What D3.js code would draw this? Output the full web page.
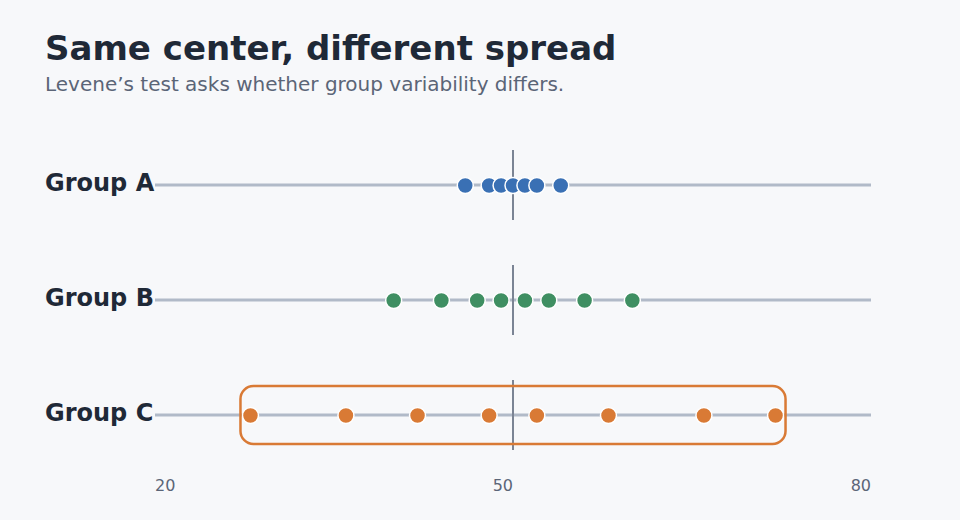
<!DOCTYPE html>
<html>
<head>
<meta charset="utf-8">
<script src="https://cdn.jsdelivr.net/npm/d3@7"></script>
<style>
  html, body { margin: 0; padding: 0; background: #f7f8fa; }
  svg { display: block; font-family: "DejaVu Sans", sans-serif; }
</style>
</head>
<body>
<div id="vis"></div>
<script>
// data
var groups = ["Group A", "Group B", "Group C"];
var groupA = [46, 48, 49, 50, 51, 52, 54];
var groupB = [40, 44, 47, 49, 51, 53, 56, 60];
var groupC = [28, 36, 42, 48, 52, 58, 66, 72];
var tickValues = [20, 50, 80];
var centerValue = 50;
var highlightGroup = "Group C";

var colors = { "Group A": "#3a70b4", "Group B": "#3f8f62", "Group C": "#d97a35" };

var width = 960, height = 520;

var svg = d3.select("#vis").append("svg")
    .attr("width", width)
    .attr("height", height);

svg.append("rect")
    .attr("width", width)
    .attr("height", height)
    .attr("fill", "#f7f8fa");

svg.append("text")
    .attr("x", 45)
    .attr("y", 60)
    .attr("font-size", 34)
    .attr("font-weight", "bold")
    .attr("fill", "#1f2937")
    .text("Same center, different spread");

svg.append("text")
    .attr("x", 45)
    .attr("y", 91)
    .attr("font-size", 20)
    .attr("fill", "#5b6577")
    .text("Levene\u2019s test asks whether group variability differs.");

var x = d3.scaleLinear()
    .domain([20, 80])
    .range([155, 871]);

var y = d3.scalePoint()
    .domain(groups)
    .range([185, 415]);

var values = { "Group A": groupA, "Group B": groupB, "Group C": groupC };

var rows = svg.selectAll(".row")
    .data(groups)
    .enter().append("g")
    .attr("class", "row")
    .attr("transform", function(d) { return "translate(0," + y(d) + ")"; });

rows.append("line")
    .attr("x1", x(20))
    .attr("x2", x(80))
    .attr("stroke", "#b1bac8")
    .attr("stroke-width", 3);

rows.append("text")
    .attr("x", 45)
    .attr("y", 6)
    .attr("font-size", 24)
    .attr("font-weight", "bold")
    .attr("fill", "#1f2937")
    .text(function(d) { return d; });

rows.append("line")
    .attr("x1", x(centerValue))
    .attr("x2", x(centerValue))
    .attr("y1", -35)
    .attr("y2", 35)
    .attr("stroke", "#7b8494")
    .attr("stroke-width", 2);

// rounded box round the widest group
var hv = values[highlightGroup];
svg.append("rect")
    .attr("x", x(d3.min(hv)) - 10)
    .attr("y", y(highlightGroup) - 29)
    .attr("width", x(d3.max(hv)) - x(d3.min(hv)) + 20)
    .attr("height", 58)
    .attr("rx", 13)
    .attr("fill", "none")
    .attr("stroke", colors[highlightGroup])
    .attr("stroke-width", 2.5);

rows.selectAll("circle")
    .data(function(g) { return values[g].map(function(v) { return { g: g, v: v }; }); })
    .enter().append("circle")
    .attr("cx", function(d) { return x(d.v); })
    .attr("cy", 0.5)
    .attr("r", 8)
    .attr("fill", function(d) { return colors[d.g]; })
    .attr("stroke", "#ffffff")
    .attr("stroke-width", 1.5);

svg.selectAll(".tick-label")
    .data(tickValues)
    .enter().append("text")
    .attr("class", "tick-label")
    .attr("x", function(d) { return x(d); })
    .attr("y", 491)
    .attr("font-size", 16)
    .attr("fill", "#5b6577")
    .attr("text-anchor", function(d, i) { return i === 0 ? "start" : "end"; })
    .text(function(d) { return d; });
</script>
</body>
</html>
